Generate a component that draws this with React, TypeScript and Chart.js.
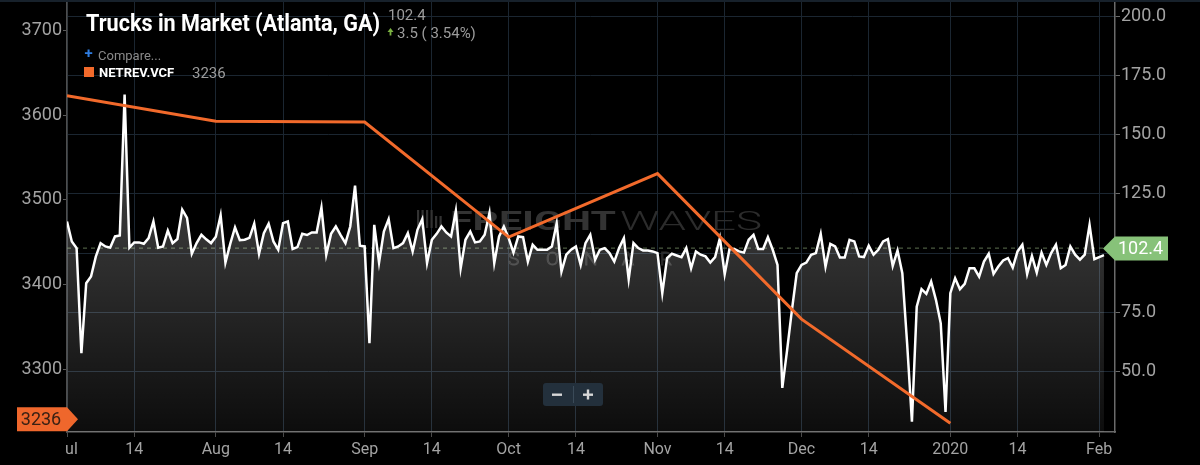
import React, { useEffect, useRef } from "react";
import { Chart, registerables } from "chart.js";

Chart.register(...registerables);

// ---- Data ----
// Trucks in Market (Atlanta, GA), daily from Jul 1 2019 (right axis)
const TRUCKS: number[] = [
  113.4, 105.0, 102.2, 57.9, 87.4, 90.2, 98.6, 104.3, 102.9, 102.4,
  107.1, 107.5, 166.9, 102.4, 104.6, 104.6, 104.0, 106.4, 113.4, 102.4,
  102.9, 109.6, 104.3, 106.0, 118.4, 114.9, 99.8, 104.3, 107.8, 105.9,
  104.3, 107.0, 116.0, 96.1, 104.0, 110.9, 105.5, 105.7, 106.5, 112.5,
  99.8, 108.5, 112.5, 105.0, 101.5, 112.7, 113.4, 101.8, 102.6, 108.2,
  107.7, 108.8, 108.8, 119.3, 99.4, 108.2, 111.3, 107.7, 104.3, 111.3,
  128.5, 103.2, 102.9, 62.1, 112.0, 96.1, 109.2, 114.4, 102.2, 102.9,
  104.3, 108.5, 100.8, 109.9, 114.4, 95.9, 105.7, 108.2, 111.3, 108.8,
  107.1, 117.9, 93.7, 105.7, 109.2, 104.6, 105.0, 107.8, 117.0, 95.9,
  107.1, 111.3, 106.4, 100.3, 107.1, 106.8, 96.5, 103.6, 101.5, 101.5,
  101.5, 102.9, 112.7, 92.3, 99.4, 101.5, 102.9, 95.1, 104.3, 107.8,
  97.3, 101.5, 102.2, 100.1, 96.5, 102.2, 106.4, 89.1, 104.3, 102.2,
  101.2, 101.2, 100.8, 100.1, 83.2, 98.0, 99.8, 99.1, 98.4, 102.2,
  93.7, 100.8, 99.4, 98.7, 96.1, 98.4, 106.4, 91.2, 101.8, 101.8,
  100.8, 100.3, 105.7, 107.8, 101.8, 101.8, 106.8, 101.5, 95.1, 43.3,
  59.2, 76.1, 91.6, 95.1, 96.1, 99.4, 100.1, 108.2, 94.4, 104.0,
  102.9, 98.2, 98.2, 105.7, 105.0, 98.7, 98.4, 103.2, 99.4, 101.5,
  105.0, 106.0, 94.7, 101.2, 91.6, 62.0, 29.0, 77.5, 84.9, 82.9,
  88.1, 80.4, 70.5, 33.2, 83.2, 89.5, 84.9, 87.1, 93.7, 93.7,
  90.2, 96.5, 99.8, 91.3, 94.4, 97.0, 98.0, 94.0, 100.8, 103.6,
  91.3, 98.9, 91.9, 100.3, 95.1, 100.1, 103.6, 93.7, 95.1, 102.9,
  99.4, 97.3, 99.4, 112.0, 97.5, 98.4, 99.2,
];

// NETREV.VCF monthly (left axis), day offsets from Jul 1 2019
const NETREV_DAYS: number[] = [0, 31, 62, 92, 123, 153, 184];
const NETREV: number[] = [3623, 3593, 3592, 3456, 3531, 3359, 3236];

// X axis ticks (day offsets) and labels
const X_TICK_DAYS: number[] = [0, 14, 31, 45, 62, 76, 92, 106, 123, 137, 153, 167, 184, 198, 215];
const X_TICK_LABELS: string[] = ["Jul", "14", "Aug", "14", "Sep", "14", "Oct", "14", "Nov", "14", "Dec", "14", "2020", "14", "Feb"];
const LEFT_TICKS: number[] = [3300, 3400, 3500, 3600, 3700];
const RIGHT_TICKS: number[] = [50, 75, 100, 125, 150, 175, 200];

const TITLE = "Trucks in Market (Atlanta, GA)";
const LAST_TRUCKS = 102.4;
const CHANGE_TEXT = "3.5 ( 3.54%)";
const SERIES2_NAME = "NETREV.VCF";
const LAST_NETREV = 3236;

const FONT = "Roboto, 'Noto Sans', sans-serif";

function fitText(ctx: CanvasRenderingContext2D, text: string, x: number, y: number, w: number) {
  const m = ctx.measureText(text).width;
  ctx.save();
  ctx.translate(x, y);
  ctx.scale(w / m, 1);
  ctx.fillText(text, 0, 0);
  ctx.restore();
}

function noPad(s: any) {
  s.paddingTop = 0;
  s.paddingBottom = 0;
  s.paddingLeft = 0;
  s.paddingRight = 0;
}

const overlayPlugin = {
  id: "overlay",
  beforeDatasetsDraw(chart: any) {
    const ctx: CanvasRenderingContext2D = chart.ctx;
    const ca = chart.chartArea;
    const yR = chart.scales.yR;
    ctx.save();
    // watermark
    ctx.fillStyle = "#333333";
    for (let i = 0; i < 6; i++) {
      const h = i < 4 ? 18 : 12;
      ctx.fillRect(417 + i * 4.5, 228 - h, 2.2, h);
    }
    ctx.font = `700 26px ${FONT}`;
    ctx.textBaseline = "alphabetic";
    fitText(ctx, "FREIGHT", 450, 230, 166);
    ctx.fillStyle = "#2c2c2c";
    ctx.font = `300 26px ${FONT}`;
    fitText(ctx, "WAVES", 620, 230, 142);
    ctx.strokeStyle = "#2e2e2e";
    ctx.lineWidth = 1;
    ctx.font = `300 19px ${FONT}`;
    const son = ["S", "O", "N", "A", "R"];
    son.forEach((c, i) => {
      ctx.strokeText(c, 508 + i * 38, 265);
    });
    // dashed last-value line
    const yy = yR.getPixelForValue(LAST_TRUCKS);
    ctx.strokeStyle = "#5d7050";
    ctx.lineWidth = 1;
    ctx.setLineDash([4, 4]);
    ctx.beginPath();
    ctx.moveTo(ca.left, yy + 0.5);
    ctx.lineTo(ca.right - 12, yy + 0.5);
    ctx.stroke();
    ctx.restore();
  },
  afterDraw(chart: any) {
    const ctx: CanvasRenderingContext2D = chart.ctx;
    const ca = chart.chartArea;
    const yR = chart.scales.yR;
    const yL = chart.scales.yL;
    ctx.save();
    // top border
    ctx.strokeStyle = "#17212b";
    ctx.lineWidth = 2;
    ctx.beginPath();
    ctx.moveTo(0, 1);
    ctx.lineTo(1200, 1);
    ctx.stroke();
    // clip the first x label
    ctx.fillStyle = "#000";
    ctx.fillRect(0, ca.bottom + 4, ca.left - 1, 40);

    // title
    ctx.textBaseline = "alphabetic";
    ctx.textAlign = "left";
    ctx.fillStyle = "#ffffff";
    ctx.font = `700 23px ${FONT}`;
    ctx.fillText(TITLE, 86, 31, 294);
    ctx.fillStyle = "#9c9c9c";
    ctx.font = `15px ${FONT}`;
    ctx.fillText(LAST_TRUCKS.toFixed(1), 388, 20);
    ctx.fillText(CHANGE_TEXT, 397, 38);
    // green up arrow
    ctx.fillStyle = "#7cb342";
    ctx.beginPath();
    ctx.moveTo(387.5, 32);
    ctx.lineTo(390.5, 28);
    ctx.lineTo(393.5, 32);
    ctx.closePath();
    ctx.fill();
    ctx.fillRect(389.6, 31.5, 1.8, 4);

    // legend
    ctx.fillStyle = "#2f7de1";
    ctx.font = `700 15px ${FONT}`;
    ctx.textAlign = "center";
    ctx.fillText("+", 88.5, 58);
    ctx.textAlign = "left";
    ctx.fillStyle = "#8a8a8a";
    ctx.font = `13px ${FONT}`;
    ctx.fillText("Compare...", 98, 60);
    ctx.fillStyle = "#f26a2b";
    ctx.fillRect(84, 67, 10, 10);
    ctx.fillStyle = "#ffffff";
    ctx.font = `700 13px ${FONT}`;
    ctx.fillText(SERIES2_NAME, 99, 77, 76);
    ctx.fillStyle = "#9c9c9c";
    ctx.font = `15px ${FONT}`;
    ctx.fillText(String(LAST_NETREV), 192, 77.5);

    // right tag
    const ty = yR.getPixelForValue(LAST_TRUCKS) + 1;
    ctx.fillStyle = "#87c279";
    ctx.beginPath();
    ctx.moveTo(ca.right - 12, ty);
    ctx.lineTo(ca.right, ty - 12);
    ctx.lineTo(1168, ty - 12);
    ctx.lineTo(1168, ty + 12);
    ctx.lineTo(ca.right, ty + 12);
    ctx.closePath();
    ctx.fill();
    ctx.fillStyle = "#ffffff";
    ctx.font = `18px ${FONT}`;
    ctx.textBaseline = "middle";
    ctx.fillText(LAST_TRUCKS.toFixed(1), 1118, ty + 1);

    // left tag
    const ly = yL.getPixelForValue(LAST_NETREV) - 4;
    ctx.fillStyle = "#ef672c";
    ctx.beginPath();
    ctx.moveTo(17, ly - 12);
    ctx.lineTo(ca.left, ly - 12);
    ctx.lineTo(ca.left + 11, ly);
    ctx.lineTo(ca.left, ly + 12);
    ctx.lineTo(17, ly + 12);
    ctx.closePath();
    ctx.fill();
    ctx.fillStyle = "#3a2114";
    ctx.font = `18px ${FONT}`;
    ctx.textAlign = "center";
    ctx.fillText(String(LAST_NETREV), 41, ly + 1);

    // zoom buttons
    ctx.fillStyle = "#23303c";
    ctx.beginPath();
    (ctx as any).roundRect(543, 383, 60, 23, 3);
    ctx.fill();
    ctx.strokeStyle = "#3a4a58";
    ctx.lineWidth = 1;
    ctx.beginPath();
    ctx.moveTo(573.5, 386);
    ctx.lineTo(573.5, 403);
    ctx.stroke();
    ctx.fillStyle = "#d8d8d8";
    ctx.fillRect(552, 393.5, 10, 2.4);
    ctx.fillRect(583, 393.5, 10, 2.4);
    ctx.fillRect(586.8, 389.5, 2.4, 10);
    ctx.restore();
  },
};

export default function App() {
  const ref = useRef<HTMLCanvasElement | null>(null);

  useEffect(() => {
    if (!ref.current) return;
    const chart = new Chart(ref.current, {
      type: "line",
      data: {
        datasets: [
          {
            label: SERIES2_NAME,
            data: NETREV_DAYS.map((d, i) => ({ x: d, y: NETREV[i] })),
            yAxisID: "yL",
            borderColor: "#f26a2b",
            borderWidth: 3,
            pointRadius: 0,
            fill: false,
            order: 0,
          },
          {
            label: TITLE,
            data: TRUCKS.map((v, i) => ({ x: i, y: v })),
            yAxisID: "yR",
            borderColor: "#ffffff",
            borderWidth: 2.5,
            pointRadius: 0,
            tension: 0,
            fill: "start",
            order: 1,
            backgroundColor: (c: any) => {
              const ca = c.chart.chartArea;
              if (!ca) return "rgba(255,255,255,0.15)";
              const g = c.chart.ctx.createLinearGradient(0, ca.top, 0, ca.bottom);
              g.addColorStop(0, "rgba(255,255,255,0.27)");
              g.addColorStop(0.55, "rgba(255,255,255,0.2)");
              g.addColorStop(1, "rgba(255,255,255,0.05)");
              return g;
            },
          },
        ],
      },
      options: {
        animation: false,
        responsive: false,
        devicePixelRatio: 1,
        layout: { padding: { top: 2, left: 0, right: 0, bottom: 0 } },
        plugins: { legend: { display: false }, tooltip: { enabled: false } },
        scales: {
          x: {
            type: "linear",
            position: "bottom",
            min: 0,
            max: 218.3,
            afterBuildTicks: (axis: any) => {
              axis.ticks = X_TICK_DAYS.map((v) => ({ value: v }));
            },
            afterFit: (s: any) => {
              s.height = 33;
              noPad(s);
            },
            ticks: {
              autoSkip: false,
              maxRotation: 0,
              color: "#a3a3a3",
              font: { family: FONT, size: 16 },
              padding: 3,
              callback: (v: any) => {
                const i = X_TICK_DAYS.indexOf(Number(v));
                return i >= 0 ? X_TICK_LABELS[i] : "";
              },
            },
            grid: { color: "#1b2631", tickColor: "#4a4a4a", tickLength: 5, lineWidth: 1 },
            border: { color: "#6a6a6a", width: 1.5 },
          },
          yL: {
            type: "linear",
            position: "left",
            min: 3225.6,
            max: 3733.9,
            afterBuildTicks: (axis: any) => {
              axis.ticks = LEFT_TICKS.map((v) => ({ value: v }));
            },
            afterFit: (s: any) => {
              s.width = 67;
              noPad(s);
            },
            ticks: {
              color: "#a3a3a3",
              font: { family: FONT, size: 18 },
              padding: 1,
              callback: (v: any) => String(v),
            },
            grid: { drawOnChartArea: false, tickColor: "#5a5a5a", tickLength: 4 },
            border: { color: "#4e4e4e", width: 1.5 },
          },
          yR: {
            type: "linear",
            position: "right",
            min: 24.7,
            max: 205.9,
            afterBuildTicks: (axis: any) => {
              axis.ticks = RIGHT_TICKS.map((v) => ({ value: v }));
            },
            afterFit: (s: any) => {
              s.width = 85;
              noPad(s);
            },
            ticks: {
              color: "#a3a3a3",
              font: { family: FONT, size: 18 },
              padding: 1,
              callback: (v: any) => (Number(v) === 100 ? "" : Number(v).toFixed(1)),
            },
            grid: { color: "#1b2631", tickColor: "#6a6a6a", tickLength: 5 },
            border: { color: "#6a6a6a", width: 1.5 },
          },
        },
      },
      plugins: [overlayPlugin],
    });
    return () => chart.destroy();
  }, []);

  return (
    <div style={{ position: "fixed", left: 0, top: 0, width: 1200, height: 465, background: "#000" }}>
      <canvas ref={ref} width={1200} height={465} style={{ display: "block" }} />
    </div>
  );
}
